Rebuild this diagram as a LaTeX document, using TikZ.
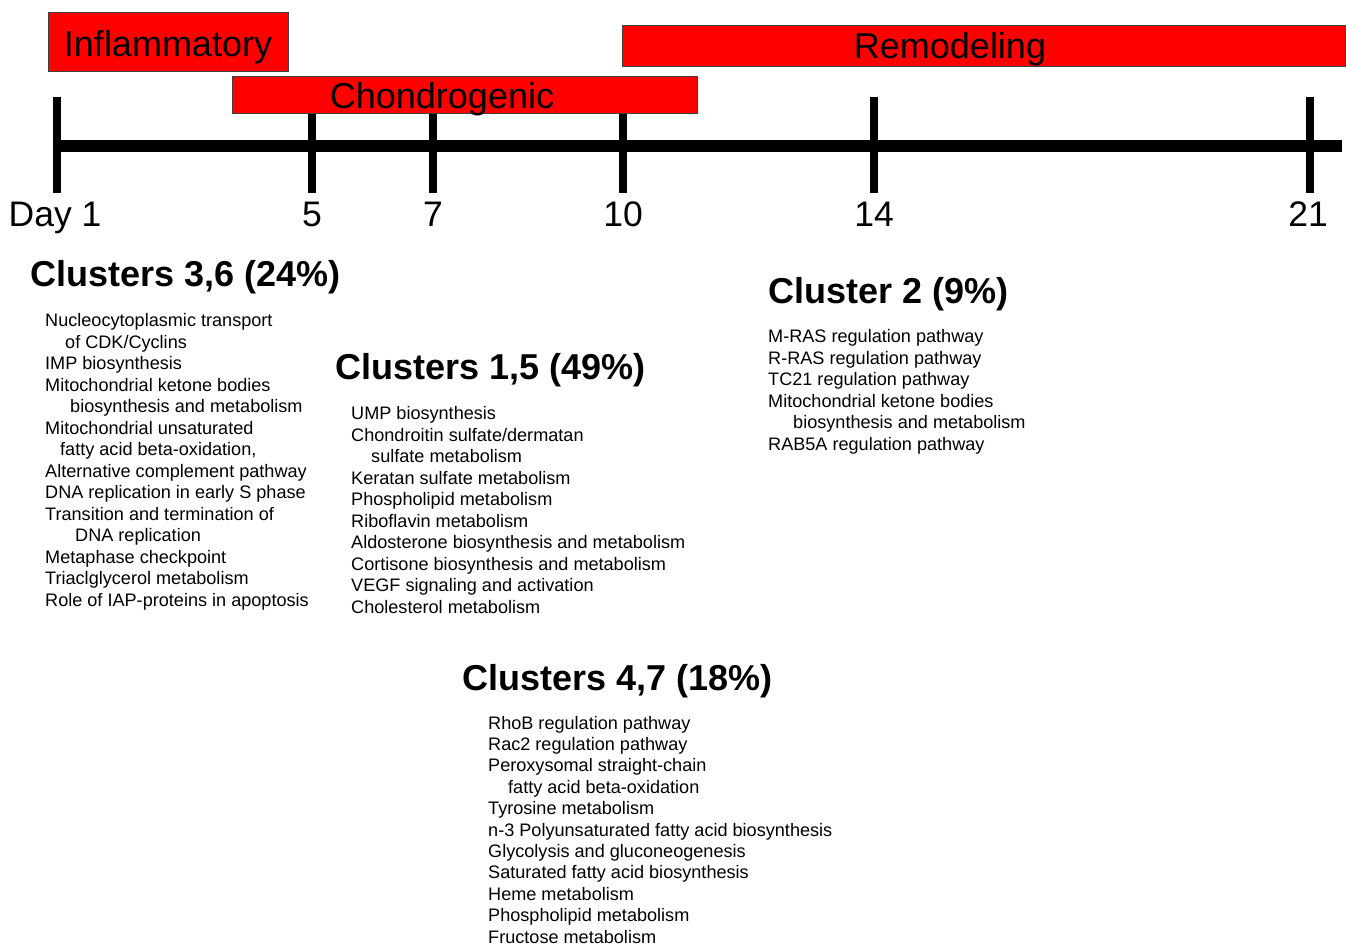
\documentclass[tikz,border=0pt]{standalone}
\usepackage{fontspec}
\setmainfont{Liberation Sans}
\begin{document}
\begin{tikzpicture}[x=1pt,y=-1pt,
  phase/.style={draw=black!75, line width=1pt, fill=red, inner sep=0, anchor=north west},
  phasetext/.style={font=\fontsize{36}{42}\selectfont, inner sep=0, anchor=base},
  daytick/.style={line width=8pt},
  axisline/.style={line width=12pt},
  daylabel/.style={font=\fontsize{35.5}{42}\selectfont, inner sep=0, anchor=base},
  head/.style={font=\bfseries\fontsize{36}{42}\selectfont, inner sep=0, anchor=base west},
  item/.style={font=\fontsize{18.1}{21}\selectfont, inner sep=0, anchor=base west}]
\fill[white] (0,0) rectangle (1346,946);
\useasboundingbox (0,0) rectangle (1346,946);
% axis and ticks
\coordinate (axL) at (55,146);
\coordinate (axR) at (1342,146);
\draw[axisline] (axL) -- (axR);
\foreach \x/\n in {57/d1,312/d5,433/d7,623/d10,874/d14,1310/d21}{
  \coordinate (\n top) at (\x,97);
  \coordinate (\n bot) at (\x,193);
  \draw[daytick] (\n top) -- (\n bot);
}
% phase boxes
\node[phase, minimum width=240pt, minimum height=59pt] (infl) at (48,12) {};
\node[phase, minimum width=465pt, minimum height=37pt] (chon) at (232,76) {};
\node[phase, minimum width=723pt, minimum height=41pt] (remo) at (622,25) {};
\node[phasetext] (inflT) at (168,56) {Inflammatory};
\node[phasetext] (chonT) at (442,108) {Chondrogenic};
\node[phasetext] (remoT) at (950,58) {Remodeling};
% day labels
\node[daylabel] (l1) at (55,226) {Day 1};
\node[daylabel] (l5) at (312,226) {5};
\node[daylabel] (l7) at (433,226) {7};
\node[daylabel] (l10) at (623,226) {10};
\node[daylabel] (l14) at (874,226) {14};
\node[daylabel] (l21) at (1308,226) {21};
% Clusters 3,6
\node[head] (h36) at (30,286) {Clusters 3,6 (24\%)};
\foreach \t/\dx [count=\i from 0] in {{Nucleocytoplasmic transport}/0,{of CDK/Cyclins}/20,{IMP biosynthesis}/0,{Mitochondrial ketone bodies}/0,{biosynthesis and metabolism}/25,{Mitochondrial unsaturated}/0,{fatty acid beta-oxidation,}/15,{Alternative complement pathway}/0,{DNA replication in early S phase}/0,{Transition and termination of}/0,{DNA replication}/30,{Metaphase checkpoint}/0,{Triaclglycerol metabolism}/0,{Role of IAP-proteins in apoptosis}/0}{
  \node[item] (a\i) at (45+\dx,326.5+21.5*\i) {\t};
}
% Clusters 1,5
\node[head] (h15) at (335,379) {Clusters 1,5 (49\%)};
\foreach \t/\dx [count=\i from 0] in {{UMP biosynthesis}/0,{Chondroitin sulfate/dermatan}/0,{sulfate metabolism}/20,{Keratan sulfate metabolism}/0,{Phospholipid metabolism}/0,{Riboflavin metabolism}/0,{Aldosterone biosynthesis and metabolism}/0,{Cortisone biosynthesis and metabolism}/0,{VEGF signaling and activation}/0,{Cholesterol metabolism}/0}{
  \node[item] (b\i) at (351+\dx,419.5+21.5*\i) {\t};
}
% Cluster 2
\node[head] (h2) at (768,303) {Cluster 2 (9\%)};
\foreach \t/\dx [count=\i from 0] in {{M-RAS regulation pathway}/0,{R-RAS regulation pathway}/0,{TC21 regulation pathway}/0,{Mitochondrial ketone bodies}/0,{biosynthesis and metabolism}/25,{RAB5A regulation pathway}/0}{
  \node[item] (c\i) at (768+\dx,342.5+21.5*\i) {\t};
}
% Clusters 4,7
\node[head] (h47) at (462,690) {Clusters 4,7 (18\%)};
\foreach \t/\dx [count=\i from 0] in {{RhoB regulation pathway}/0,{Rac2 regulation pathway}/0,{Peroxysomal straight-chain}/0,{fatty acid beta-oxidation}/20,{Tyrosine metabolism}/0,{n-3 Polyunsaturated fatty acid biosynthesis}/0,{Glycolysis and gluconeogenesis}/0,{Saturated fatty acid biosynthesis}/0,{Heme metabolism}/0,{Phospholipid metabolism}/0,{Fructose metabolism}/0}{
  \node[item] (e\i) at (488+\dx,729+21.4*\i) {\t};
}
\end{tikzpicture}
\end{document}
